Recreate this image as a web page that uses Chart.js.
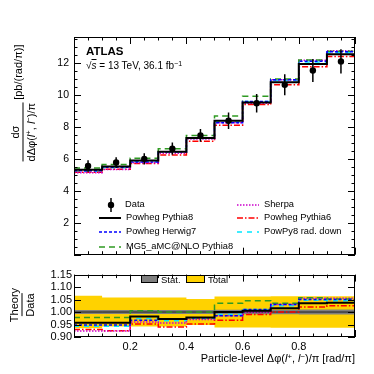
<!DOCTYPE html>
<html>
<head>
<meta charset="utf-8">
<script src="https://cdn.jsdelivr.net/npm/chart.js@4.4.1/dist/chart.umd.min.js"></script>
<style>
body { margin: 0; background: #fff; font-family: "Liberation Sans", Arial, sans-serif; }
#wrap { position: relative; width: 374px; height: 374px; overflow: hidden; }
canvas { position: absolute; left: 0; }
#topChart { top: 0; }
#ratioChart { top: 266px; }
.t { position: absolute; white-space: nowrap; color: #000; line-height: 1; }
.rot { transform: translate(-50%, -50%) rotate(-90deg); display: flex; align-items: center; }
.frac { display: inline-flex; flex-direction: column; align-items: center; }
.frac .den { border-top: 1px solid #000; padding-top: 2px; }
.frac .num { padding-bottom: 2px; }
sup { font-size: 70%; line-height: 0; vertical-align: 0.45em; }
.leg { position: absolute; font-size: 9.3px; white-space: nowrap; line-height: 1; }
.leg svg { position: absolute; }
.box { position: absolute; border: 1px solid #000; box-sizing: border-box; }
</style>
</head>
<body>
<div id="wrap">
  <canvas id="topChart" width="374" height="266"></canvas>
  <canvas id="ratioChart" width="374" height="108"></canvas>

  <div class="t" style="left:86px;top:46px;font-size:11.5px;font-weight:bold;">ATLAS</div>
  <div class="t" style="left:86px;top:61px;font-size:10px;">√<span style="text-decoration:overline"><i>s</i></span> = 13 TeV, 36.1 fb<sup>−1</sup></div>

  <div class="t rot" style="left:23px;top:103px;font-size:11px;">
    <span class="frac"><span class="num">dσ</span><span class="den">dΔφ(<i>l</i><sup>+</sup>, <i>l</i><sup>−</sup>)/π</span></span>
    <span style="margin-left:3px;margin-top:-10px;">[pb/(rad/π)]</span>
  </div>
  <div class="t rot" style="left:22px;top:305px;font-size:11px;">
    <span class="frac"><span class="num">Theory</span><span class="den">Data</span></span>
  </div>
  <div class="t" style="right:19px;top:353px;font-size:11px;">Particle-level Δφ(<i>l</i><sup>+</sup>, <i>l</i><sup>−</sup>)/π [rad/π]</div>

  <div id="legend"></div>

  <div class="box" style="left:141px;top:275px;width:17px;height:8px;background:#7f7f7f;"></div>
  <div class="t" style="left:161px;top:275px;font-size:9.5px;">Stat.</div>
  <div class="box" style="left:186px;top:275px;width:19px;height:8px;background:#ffd200;"></div>
  <div class="t" style="left:208px;top:275px;font-size:9.5px;">Total</div>
</div>
<script>
// bins of the distribution
const binEdges = [0, 0.1, 0.2, 0.3, 0.4, 0.5, 0.6, 0.7, 0.8, 0.9, 1.0];
const binCentres = [0.05, 0.15, 0.25, 0.35, 0.45, 0.55, 0.65, 0.75, 0.85, 0.95];

// measured cross-section and its total uncertainty
const dataVals = [5.56, 5.78, 6.01, 6.65, 7.48, 8.40, 9.50, 10.65, 11.55, 12.12];
const dataErr = [0.36, 0.33, 0.35, 0.38, 0.40, 0.52, 0.58, 0.66, 0.72, 0.76];

// predictions, top panel
const powPy8 = [5.32, 5.53, 5.90, 6.46, 7.32, 8.40, 9.55, 10.81, 11.95, 12.57];
const powHw7 = [5.27, 5.48, 5.81, 6.46, 7.31, 8.27, 9.60, 10.97, 12.13, 12.73];
const mg5Py8 = [5.44, 5.65, 6.04, 6.65, 7.48, 8.69, 9.93, 11.02, 12.21, 12.75];
const sherpa = [5.14, 5.34, 5.77, 6.36, 7.26, 8.27, 9.50, 10.97, 12.19, 12.79];
const powPy6 = [5.17, 5.35, 5.72, 6.25, 7.12, 8.12, 9.41, 10.65, 11.78, 12.42];
const radDown = [5.24, 5.45, 5.85, 6.42, 7.29, 8.32, 9.60, 10.92, 12.09, 12.67];

// theory / data
const powPy8Ratio = [0.957, 0.957, 0.982, 0.972, 0.978, 1.0, 1.005, 1.015, 1.035, 1.037];
const powHw7Ratio = [0.948, 0.948, 0.967, 0.972, 0.977, 0.985, 1.01, 1.03, 1.05, 1.05];
const mg5Py8Ratio = [0.978, 0.978, 1.005, 1.0, 1.0, 1.035, 1.045, 1.035, 1.057, 1.052];
const sherpaRatio = [0.924, 0.924, 0.96, 0.956, 0.97, 0.985, 1.0, 1.03, 1.055, 1.055];
const powPy6Ratio = [0.93, 0.925, 0.952, 0.94, 0.952, 0.967, 0.99, 1.0, 1.02, 1.025];
const radDownRatio = [0.943, 0.943, 0.974, 0.965, 0.974, 0.99, 1.01, 1.025, 1.047, 1.045];

// relative uncertainties of the data
const statUnc = [0.008, 0.008, 0.008, 0.008, 0.008, 0.009, 0.009, 0.009, 0.01, 0.01];
const totalUnc = [0.065, 0.058, 0.058, 0.058, 0.052, 0.062, 0.062, 0.063, 0.063, 0.063];

// tick labels
const yTicksTop = [2, 4, 6, 8, 10, 12];
const yTicksRatio = [0.90, 0.95, 1.00, 1.05, 1.10, 1.15];
const xTicksRatio = [0.2, 0.4, 0.6, 0.8];

const FONT = '"Liberation Sans", Arial, sans-serif';

const models = [
    { name: 'Powheg Pythia8', top: powPy8, ratio: powPy8Ratio, color: '#000000', dash: [], width: 2 },
    { name: 'Powheg Herwig7', top: powHw7, ratio: powHw7Ratio, color: '#0000ff', dash: [3, 2], width: 1.5 },
    { name: 'MG5_aMC@NLO Pythia8', top: mg5Py8, ratio: mg5Py8Ratio, color: '#2f9a22', dash: [6, 4], width: 1.5 },
    { name: 'Sherpa', top: sherpa, ratio: sherpaRatio, color: '#cc00cc', dash: [1.5, 1.5], width: 1.5 },
    { name: 'Powheg Pythia6', top: powPy6, ratio: powPy6Ratio, color: '#ff0000', dash: [6, 2, 1.5, 2], width: 1.5 },
    { name: 'PowPy8 rad. down', top: radDown, ratio: radDownRatio, color: '#00e8ff', dash: [5, 5], width: 1.5 }
];

function steps(vals) {
    const pts = vals.map((v, i) => ({ x: binEdges[i], y: v }));
    pts.push({ x: binEdges[binEdges.length - 1], y: vals[vals.length - 1] });
    return pts;
}

function stepLine(vals, color, dash, width) {
    return {
        data: steps(vals),
        borderColor: color,
        borderDash: dash,
        borderWidth: width,
        stepped: true,
        pointRadius: 0,
        fill: false
    };
}

// inward ticks on all four sides and the frame, ROOT style
const frameTicks = {
    id: 'frameTicks',
    afterDraw(chart, args, o) {
        const { ctx, chartArea: a } = chart;
        const x = chart.scales.x, y = chart.scales.y;
        const isMajor = (v, step) => Math.abs(v / step - Math.round(v / step)) < 1e-6;
        ctx.save();
        ctx.strokeStyle = '#000';
        ctx.lineWidth = 1;
        ctx.beginPath();
        for (let v = x.min; v <= x.max + 1e-9; v += o.xMinor) {
            const px = Math.round(x.getPixelForValue(v)) + 0.5;
            const len = isMajor(v, o.xMajor) ? o.majorLen : o.minorLen;
            ctx.moveTo(px, a.bottom); ctx.lineTo(px, a.bottom - len);
            ctx.moveTo(px, a.top); ctx.lineTo(px, a.top + len);
        }
        for (let v = o.yStart; v <= y.max + 1e-9; v += o.yMinor) {
            const py = Math.round(y.getPixelForValue(v)) + 0.5;
            const len = isMajor(v - o.yStart, o.yMajor) ? o.majorLen : o.minorLen;
            ctx.moveTo(a.left, py); ctx.lineTo(a.left + len, py);
            ctx.moveTo(a.right, py); ctx.lineTo(a.right - len, py);
        }
        ctx.stroke();
        ctx.strokeRect(Math.round(a.left) + 0.5, Math.round(a.top) + 0.5,
            Math.round(a.width) - 1, Math.round(a.height) - 1);
        ctx.restore();
    }
};

// ---- top panel ----
const errBars = [];
binCentres.forEach((c, i) => {
    errBars.push({ x: c, y: dataVals[i] - dataErr[i] });
    errBars.push({ x: c, y: dataVals[i] + dataErr[i] });
    errBars.push({ x: c, y: null });
});

const topDatasets = [
    { data: binCentres.map((c, i) => ({ x: c, y: dataVals[i] })), showLine: false,
      pointRadius: 3.2, pointBackgroundColor: '#000', pointBorderWidth: 0 },
    { data: errBars, borderColor: '#000', borderWidth: 1.5, pointRadius: 0, spanGaps: false, fill: false }
];
[0, 1, 2, 3, 4, 5].forEach(k => {
    const m = models[k];
    topDatasets.push(stepLine(m.top, m.color, m.dash, m.width));
});

new Chart(document.getElementById('topChart'), {
    type: 'line',
    data: { datasets: topDatasets },
    options: {
        responsive: false,
        animation: false,
        events: [],
        layout: { padding: { left: 0, right: 19, top: 37, bottom: 4 } },
        plugins: {
            legend: { display: false },
            tooltip: { enabled: false },
            frameTicks: { xMinor: 0.05, xMajor: 0.2, yStart: 0, yMinor: 0.5, yMajor: 2, majorLen: 7, minorLen: 3.5 }
        },
        scales: {
            x: {
                type: 'linear', min: 0, max: 1,
                grid: { display: false, drawTicks: false },
                border: { display: false },
                ticks: { display: false },
                afterFit(scale) { scale.height = 0; }
            },
            y: {
                min: 0, max: 13.65,
                grid: { display: false, drawTicks: false },
                border: { display: false },
                afterBuildTicks(scale) { scale.ticks = yTicksTop.map(v => ({ value: v })); },
                ticks: { color: '#000', padding: 5, autoSkip: false, font: { family: FONT, size: 10.5 } },
                afterFit(scale) { scale.width = 74; }
            }
        }
    },
    plugins: [frameTicks]
});

// ---- ratio panel ----
const ratioDatasets = [];
models.forEach(m => ratioDatasets.push(stepLine(m.ratio, m.color, m.dash, m.width)));
ratioDatasets.push(stepLine(binEdges.slice(1).map(() => 1), '#222', [], 1));
ratioDatasets.push({ data: steps(statUnc.map(u => 1 + u)), stepped: true, borderWidth: 0, pointRadius: 0,
    backgroundColor: '#7f7f7f', fill: '+1' });
ratioDatasets.push({ data: steps(statUnc.map(u => 1 - u)), stepped: true, borderWidth: 0, pointRadius: 0, fill: false });
ratioDatasets.push({ data: steps(totalUnc.map(u => 1 + u)), stepped: true, borderWidth: 0, pointRadius: 0,
    backgroundColor: '#ffd200', fill: '+1' });
ratioDatasets.push({ data: steps(totalUnc.map(u => 1 - u)), stepped: true, borderWidth: 0, pointRadius: 0, fill: false });

new Chart(document.getElementById('ratioChart'), {
    type: 'line',
    data: { datasets: ratioDatasets },
    options: {
        responsive: false,
        animation: false,
        events: [],
        layout: { padding: { left: 0, right: 19, top: 7, bottom: 0 } },
        plugins: {
            legend: { display: false },
            tooltip: { enabled: false },
            frameTicks: { xMinor: 0.05, xMajor: 0.2, yStart: 0.9, yMinor: 0.05, yMajor: 0.05, majorLen: 7, minorLen: 3.5 }
        },
        scales: {
            x: {
                type: 'linear', min: 0, max: 1,
                grid: { display: false, drawTicks: false },
                border: { display: false },
                afterBuildTicks(scale) { scale.ticks = xTicksRatio.map(v => ({ value: v })); },
                ticks: { color: '#000', padding: 3, maxRotation: 0, autoSkip: false, font: { family: FONT, size: 11 },
                         callback: v => v.toFixed(1) },
                afterFit(scale) { scale.height = 37; }
            },
            y: {
                min: 0.9, max: 1.15,
                grid: { display: false, drawTicks: false },
                border: { display: false },
                afterBuildTicks(scale) { scale.ticks = yTicksRatio.map(v => ({ value: v })); },
                ticks: { color: '#000', padding: 2, autoSkip: false, font: { family: FONT, size: 11 },
                         callback: v => v.toFixed(2) },
                afterFit(scale) { scale.width = 74; }
            }
        }
    },
    plugins: [frameTicks]
});

// ---- legend in the top panel ----
const legendSlots = [
    { x: 99, y: 218, m: 0 }, { x: 99, y: 232, m: 1 }, { x: 99, y: 247, m: 2 },
    { x: 237, y: 205, m: 3 }, { x: 237, y: 218, m: 4 }, { x: 237, y: 232, m: 5 }
];
const legendEl = document.getElementById('legend');
let html = '<svg style="position:absolute;left:105px;top:197px" width="12" height="16">' +
    '<line x1="6" y1="1" x2="6" y2="15" stroke="#000" stroke-width="1.5"/><circle cx="6" cy="8" r="3.2" fill="#000"/></svg>' +
    '<div class="leg" style="left:125px;top:200px">Data</div>';
legendSlots.forEach(s => {
    const m = models[s.m];
    html += '<svg style="position:absolute;left:' + s.x + 'px;top:' + (s.y - 3) + 'px" width="22" height="6">' +
        '<line x1="0" y1="3" x2="22" y2="3" stroke="' + m.color + '" stroke-width="' + m.width +
        '" stroke-dasharray="' + (m.dash.length ? m.dash.join(',') : 'none') + '"/></svg>' +
        '<div class="leg" style="left:' + (s.x + 27) + 'px;top:' + (s.y - 5) + 'px">' + m.name + '</div>';
});
legendEl.innerHTML = html;
</script>
</body>
</html>
